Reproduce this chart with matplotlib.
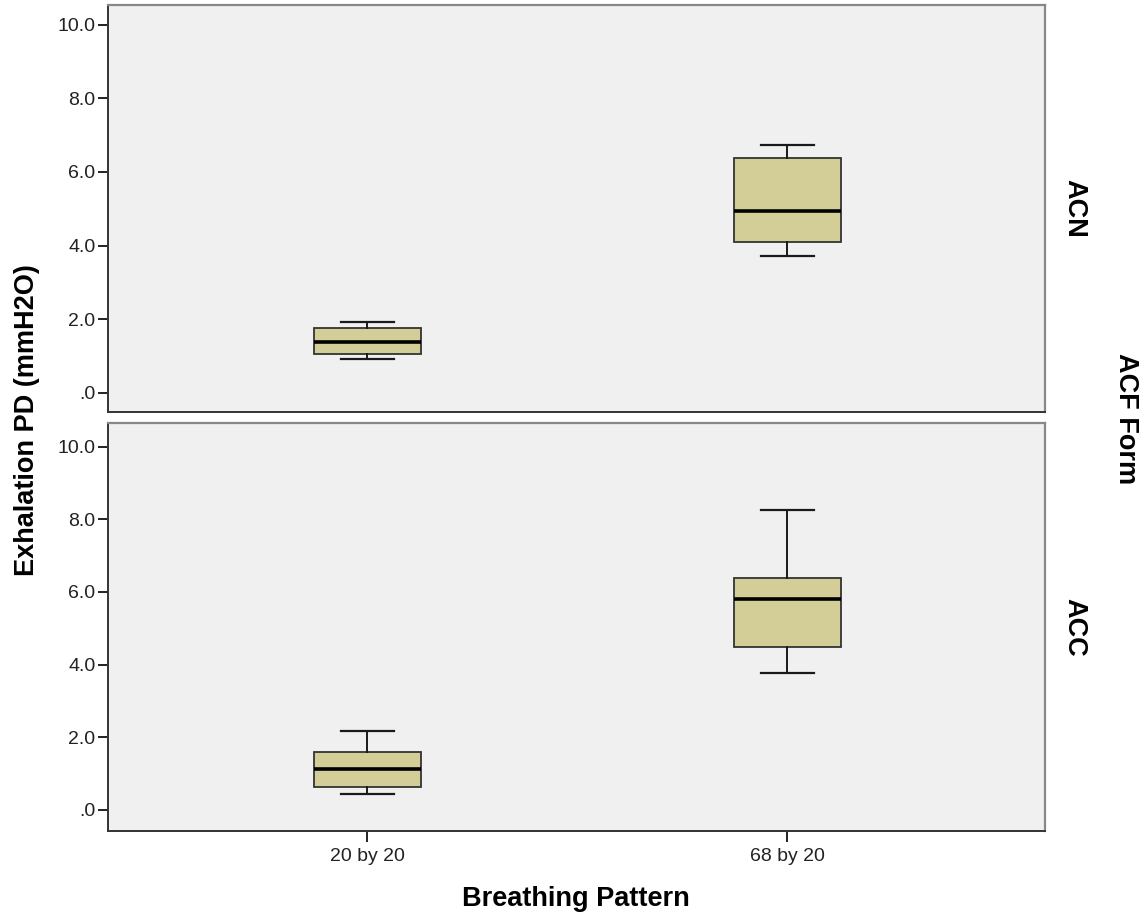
import matplotlib as mpl
mpl.use('Agg')

import numpy as np
import matplotlib.pyplot as plt
from matplotlib.ticker import FixedLocator, FuncFormatter

plt.rcParams['font.family'] = ['Liberation Sans', 'DejaVu Sans']

# data (whisker low, Q1, median, Q3, whisker high)
patterns = ['20 by 20', '68 by 20']
forms = ['ACN', 'ACC']
whislo = {'ACN': [0.91, 3.72], 'ACC': [0.45, 3.78]}
q1 = {'ACN': [1.05, 4.09], 'ACC': [0.62, 4.49]}
med = {'ACN': [1.37, 4.95], 'ACC': [1.12, 5.81]}
q3 = {'ACN': [1.77, 6.39], 'ACC': [1.59, 6.38]}
whishi = {'ACN': [1.93, 6.74], 'ACC': [2.17, 8.26]}
yticks = [0, 2, 4, 6, 8, 10]

W, H = 1143, 921
fig = plt.figure(figsize=(W / 100, H / 100), dpi=100)

left = 108 / W
width = (1045 - 108) / W
ax_top = fig.add_axes([left, 1 - 412 / H, width, (412 - 5) / H])
ax_bot = fig.add_axes([left, 1 - 831 / H, width, (831 - 423) / H])

ylims = {'ACN': (-0.525, 10.54), 'ACC': (-0.58, 10.65)}
box_fill = '#D3CE97'
bg = '#F0F0F0'
fontsz = 14
labsz = 19.5
pos = [1, 2]

for ax, form in zip([ax_top, ax_bot], forms):
    ax.set_facecolor(bg)
    stats = []
    for i, p in enumerate(patterns):
        stats.append(dict(label=p, whislo=whislo[form][i], q1=q1[form][i],
                          med=med[form][i], q3=q3[form][i],
                          whishi=whishi[form][i], fliers=[]))
    ax.bxp(stats, positions=pos, widths=0.255, capwidths=0.126,
           showfliers=False, patch_artist=True,
           boxprops=dict(facecolor=box_fill, edgecolor='#333333', linewidth=1.3),
           medianprops=dict(color='black', linewidth=2.6),
           whiskerprops=dict(color='#1a1a1a', linewidth=1.4),
           capprops=dict(color='#1a1a1a', linewidth=1.6))
    ax.set_xlim(0.383, 2.614)
    ax.set_ylim(*ylims[form])
    ax.yaxis.set_major_locator(FixedLocator(yticks))
    ax.yaxis.set_major_formatter(FuncFormatter(
        lambda v, _: ('%.1f' % v).lstrip('0') if v < 1 else '%.1f' % v))
    ax.tick_params(axis='y', length=7, width=1.4, color='#222222',
                   labelsize=fontsz, labelcolor='#222222', pad=2)
    for s in ['left', 'bottom']:
        ax.spines[s].set_color('#333333')
        ax.spines[s].set_linewidth(1.4)
    for s in ['top', 'right']:
        ax.spines[s].set_color('#888888')
        ax.spines[s].set_linewidth(1.6)
    ax.text(1.017, 0.5, form, transform=ax.transAxes, rotation=-90,
            ha='left', va='center', fontsize=labsz, fontweight='bold')

ax_top.tick_params(axis='x', bottom=False, labelbottom=False)
ax_bot.set_xticks(pos)
ax_bot.set_xticklabels(patterns)
ax_bot.tick_params(axis='x', length=8, width=1.4, color='#222222',
                   labelsize=fontsz, labelcolor='#222222', pad=4)

# shared labels
fig.text(27 / W, 1 - 420 / H, 'Exhalation PD (mmH2O)', rotation=90,
         ha='center', va='center', fontsize=labsz, fontweight='bold')
fig.text(576 / W, 1 - 899 / H, 'Breathing Pattern',
         ha='center', va='center', fontsize=labsz, fontweight='bold')
fig.text(1126 / W, 1 - 419 / H, 'ACF Form', rotation=-90,
         ha='center', va='center', fontsize=labsz, fontweight='bold')

plt.savefig('out.png', dpi=100)
